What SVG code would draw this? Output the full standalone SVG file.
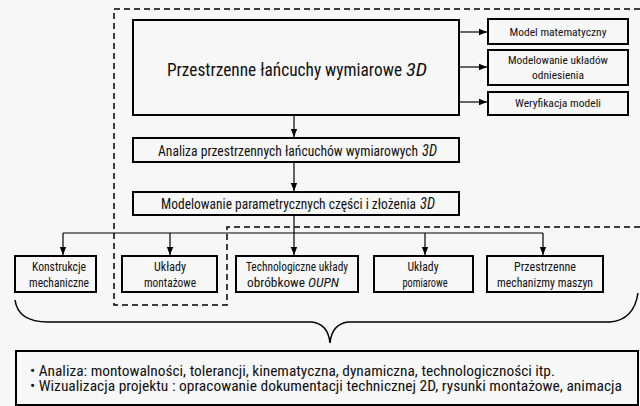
<svg xmlns="http://www.w3.org/2000/svg" width="640" height="406" viewBox="0 0 640 406">
<defs>
<marker id="ah" viewBox="0 0 10 10" refX="10" refY="5" markerWidth="8" markerHeight="8" markerUnits="userSpaceOnUse" orient="auto">
<path d="M0,1 L10,5 L0,9 Z" fill="#000"/>
</marker>
<style>
.box{fill:#f7f7f7;stroke:#000;stroke-width:2}
.con{fill:none;stroke:#000;stroke-width:1.2}
.dash{fill:none;stroke:#000;stroke-width:1.5;stroke-dasharray:6,4}
text{font-family:"Roboto Condensed","Liberation Sans",Arial,sans-serif;fill:#111;text-anchor:middle}
.st{text-anchor:start}
.it{font-style:italic}
.s{font-size:11.5px}
.m{font-size:13px}
.l{font-size:15.5px}
.b{font-size:14px;text-anchor:start}
</style>
</defs>
<rect width="640" height="406" fill="#f7f7f7"/>
<path class="dash" d="M640,9 H114 V305 H227 V227 H640"/>
<g id="main"><rect class="box" x="133" y="20" width="326" height="95"/><text class="st" x="167" y="76" font-size="17.5" textLength="235" lengthAdjust="spacingAndGlyphs">Przestrzenne łańcuchy wymiarowe</text><text class="st it" x="406" y="76" font-size="17.5" textLength="21" lengthAdjust="spacingAndGlyphs">3D</text></g>
<g id="r1"><rect class="box" x="488" y="19" width="140" height="25"/><text class="s" x="558" y="36" textLength="97" lengthAdjust="spacingAndGlyphs">Model matematyczny</text></g>
<g id="r2"><rect class="box" x="488" y="50" width="140" height="35"/><text class="s" x="558" y="64" textLength="100" lengthAdjust="spacingAndGlyphs">Modelowanie układów</text><text class="s" x="558" y="79" textLength="52" lengthAdjust="spacingAndGlyphs">odniesienia</text></g>
<g id="r3"><rect class="box" x="488" y="92" width="140" height="23"/><text class="s" x="558" y="107" textLength="86" lengthAdjust="spacingAndGlyphs">Weryfikacja modeli</text></g>
<g id="analiza"><rect class="box" x="133" y="138" width="326" height="24"/><text class="l st" transform="translate(158,156) scale(0.85,1)" textLength="306" lengthAdjust="spacingAndGlyphs">Analiza przestrzennych łańcuchów wymiarowych</text><text class="l st it" x="422" y="156" textLength="15" lengthAdjust="spacingAndGlyphs">3D</text></g>
<g id="modelowanie"><rect class="box" x="133" y="192" width="326" height="23"/><text class="l st" transform="translate(161,208.5) scale(0.85,1)" textLength="300" lengthAdjust="spacingAndGlyphs">Modelowanie parametrycznych części i złożenia</text><text class="l st it" x="420" y="208.5" textLength="15" lengthAdjust="spacingAndGlyphs">3D</text></g>
<g id="c1"><rect class="box" x="15" y="256" width="81" height="36"/><text class="m" x="59" y="271" textLength="54" lengthAdjust="spacingAndGlyphs">Konstrukcje</text><text class="m" x="59" y="287" textLength="60" lengthAdjust="spacingAndGlyphs">mechaniczne</text></g>
<g id="c2"><rect class="box" x="122" y="256" width="95" height="36"/><text class="m" x="170" y="271" textLength="32" lengthAdjust="spacingAndGlyphs">Układy</text><text class="m" x="170" y="287" textLength="52" lengthAdjust="spacingAndGlyphs">montażowe</text></g>
<g id="c3"><rect class="box" x="236" y="256" width="122" height="36"/><text class="m" x="297" y="271" textLength="102" lengthAdjust="spacingAndGlyphs">Technologiczne układy</text><text class="m st" x="247" y="287" textLength="58" lengthAdjust="spacingAndGlyphs">obróbkowe</text><text class="m st it" x="308" y="287" textLength="31" lengthAdjust="spacingAndGlyphs">OUPN</text></g>
<g id="c4"><rect class="box" x="374" y="256" width="99" height="36"/><text class="m" x="423" y="271" textLength="31" lengthAdjust="spacingAndGlyphs">Układy</text><text class="m" x="425" y="287" textLength="45" lengthAdjust="spacingAndGlyphs">pomiarowe</text></g>
<g id="c5"><rect class="box" x="487" y="256" width="116" height="36"/><text class="m" x="545" y="271" textLength="62" lengthAdjust="spacingAndGlyphs">Przestrzenne</text><text class="m" x="545" y="287" textLength="96" lengthAdjust="spacingAndGlyphs">mechanizmy maszyn</text></g>
<g id="connectors">
<path class="con" d="M459,32 H487" marker-end="url(#ah)"/>
<path class="con" d="M459,67 H487" marker-end="url(#ah)"/>
<path class="con" d="M459,102 H487" marker-end="url(#ah)"/>
<path class="con" d="M294,115 V137" marker-end="url(#ah)"/>
<path class="con" d="M294,162 V191" marker-end="url(#ah)"/>
<path class="con" d="M294,215 V255" marker-end="url(#ah)"/>
<path class="con" d="M63,233 H543"/>
<path class="con" d="M63,233 V255" marker-end="url(#ah)"/>
<path class="con" d="M170,233 V255" marker-end="url(#ah)"/>
<path class="con" d="M425,233 V255" marker-end="url(#ah)"/>
<path class="con" d="M543,233 V255" marker-end="url(#ah)"/>
</g>
<path id="brace" fill="none" stroke="#000" stroke-width="1.5" d="M15,300 Q18,322 48,322 H312 Q328,324 330,343 Q332,324 348,322 H610 Q634,320 638,293"/>
<g id="summary"><rect class="box" x="16" y="351" width="622" height="54"/>
<text class="b" x="30" y="376" textLength="525" lengthAdjust="spacingAndGlyphs">• Analiza: montowalności, tolerancji, kinematyczna, dynamiczna, technologiczności  itp.</text>
<text class="b" x="30" y="391" textLength="592" lengthAdjust="spacingAndGlyphs">• Wizualizacja projektu :  opracowanie dokumentacji technicznej 2D, rysunki montażowe, animacja</text></g>
</svg>
